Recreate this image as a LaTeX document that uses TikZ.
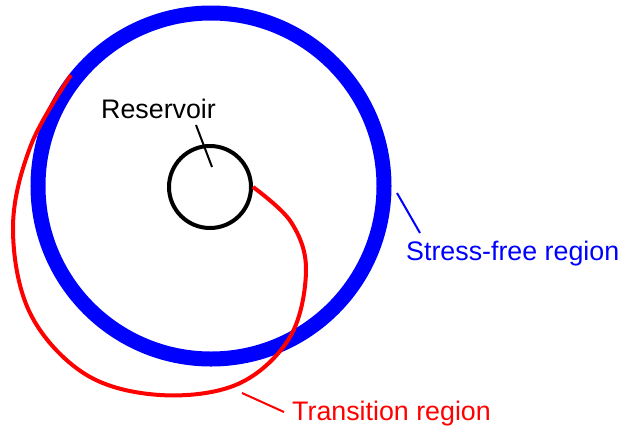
\documentclass[tikz,border=0pt]{standalone}
\usepackage{fontspec}
\setmainfont{Liberation Sans}
\definecolor{ringblue}{RGB}{0,0,255}
\definecolor{curvered}{RGB}{255,0,0}
\begin{document}
\begin{tikzpicture}[x=1pt,y=-1pt,
  lbl/.style={inner sep=0pt,anchor=base west,font=\fontsize{26.8}{32}\selectfont},
  leader/.style={line width=2pt}]
\useasboundingbox (0,0) rectangle (623,429);
% stress-free ring
\node[draw=ringblue,line width=15pt,circle,minimum size=346pt,inner sep=0pt] (ring) at (211,186) {};
% reservoir
\node[draw=black,line width=4pt,circle,minimum size=82pt,inner sep=0pt] (res) at (210,187) {};
% transition curve
\draw[curvered,line width=4pt] plot[smooth,tension=0.6] coordinates {
  (71,75) (31,145) (13,227) (30,313) (85,374) (160,395) (238,384) (290,337)
  (306,270) (291,222) (253,187)};
% labels
\node[lbl] (tres) at (101,118) {Reservoir};
\node[lbl,text=ringblue] (tsf) at (406,260) {Stress-free region};
\node[lbl,text=curvered] (ttr) at (292,420) {Transition region};
% leaders
\coordinate (rA) at (196,125); \coordinate (rB) at (212,167);
\coordinate (sA) at (397,193); \coordinate (sB) at (420,233);
\coordinate (tA) at (242,393); \coordinate (tB) at (284,412);
\draw[leader,black] (rA) -- (rB);
\draw[leader,ringblue] (sA) -- (sB);
\draw[leader,curvered] (tA) -- (tB);
\end{tikzpicture}
\end{document}
